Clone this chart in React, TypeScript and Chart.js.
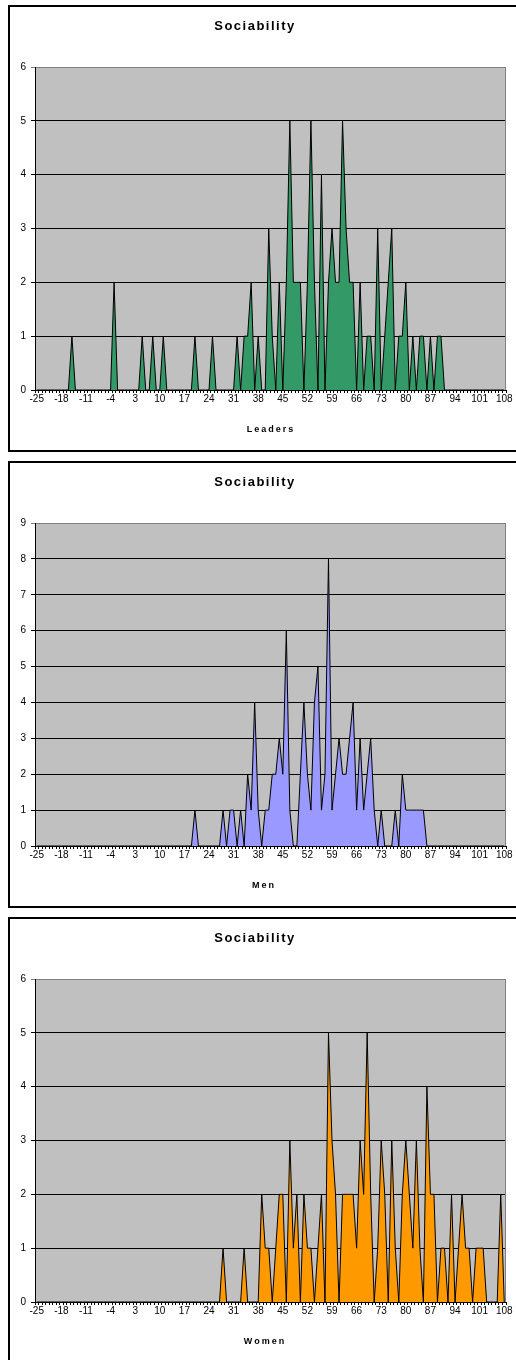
import React, { useEffect, useRef } from 'react';
import { Chart, registerables } from 'chart.js';

Chart.register(...registerables);

const CATEGORIES: string[] = [
  '-25', '-24', '-23', '-22', '-21', '-20', '-19', '-18', '-17', '-16',
  '-15', '-14', '-13', '-12', '-11', '-10', '-9', '-8', '-7', '-6',
  '-5', '-4', '-3', '-2', '-1', '0', '1', '2', '3', '4',
  '5', '6', '7', '8', '9', '10', '11', '12', '13', '14',
  '15', '16', '17', '18', '19', '20', '21', '22', '23', '24',
  '25', '26', '27', '28', '29', '30', '31', '32', '33', '34',
  '35', '36', '37', '38', '39', '40', '41', '42', '43', '44',
  '45', '46', '47', '48', '49', '50', '51', '52', '53', '54',
  '55', '56', '57', '58', '59', '60', '61', '62', '63', '64',
  '65', '66', '67', '68', '69', '70', '71', '72', '73', '74',
  '75', '76', '77', '78', '79', '80', '81', '82', '83', '84',
  '85', '86', '87', '88', '89', '90', '91', '92', '93', '94',
  '95', '96', '97', '98', '99', '100', '101', '102', '103', '104',
  '105', '106', '107', '108',
];

const TICK_LABELS: string[] = [
  '-25', '-18', '-11', '-4', '3', '10', '17', '24', '31', '38',
  '45', '52', '59', '66', '73', '80', '87', '94', '101', '108',
];

const LEADERS: number[] = [
  0, 0, 0, 0, 0, 0, 0, 0, 0, 0,
  1, 0, 0, 0, 0, 0, 0, 0, 0, 0,
  0, 0, 2, 0, 0, 0, 0, 0, 0, 0,
  1, 0, 0, 1, 0, 0, 1, 0, 0, 0,
  0, 0, 0, 0, 0, 1, 0, 0, 0, 0,
  1, 0, 0, 0, 0, 0, 0, 1, 0, 1,
  1, 2, 0, 1, 0, 0, 3, 1, 0, 2,
  0, 2, 5, 2, 2, 2, 0, 2, 5, 2,
  0, 4, 0, 2, 3, 2, 2, 5, 3, 2,
  2, 0, 2, 0, 1, 1, 0, 3, 0, 1,
  2, 3, 0, 1, 1, 2, 0, 1, 0, 1,
  1, 0, 1, 0, 1, 1, 0, 0, 0, 0,
  0, 0, 0, 0, 0, 0, 0, 0, 0, 0,
  0, 0, 0, 0,
];

const MEN: number[] = [
  0, 0, 0, 0, 0, 0, 0, 0, 0, 0,
  0, 0, 0, 0, 0, 0, 0, 0, 0, 0,
  0, 0, 0, 0, 0, 0, 0, 0, 0, 0,
  0, 0, 0, 0, 0, 0, 0, 0, 0, 0,
  0, 0, 0, 0, 0, 1, 0, 0, 0, 0,
  0, 0, 0, 1, 0, 1, 1, 0, 1, 0,
  2, 1, 4, 1, 0, 1, 1, 2, 2, 3,
  2, 6, 1, 0, 0, 2, 4, 2, 1, 4,
  5, 1, 2, 8, 1, 2, 3, 2, 2, 3,
  4, 1, 3, 1, 2, 3, 1, 0, 1, 0,
  0, 0, 1, 0, 2, 1, 1, 1, 1, 1,
  1, 0, 0, 0, 0, 0, 0, 0, 0, 0,
  0, 0, 0, 0, 0, 0, 0, 0, 0, 0,
  0, 0, 0, 0,
];

const WOMEN: number[] = [
  0, 0, 0, 0, 0, 0, 0, 0, 0, 0,
  0, 0, 0, 0, 0, 0, 0, 0, 0, 0,
  0, 0, 0, 0, 0, 0, 0, 0, 0, 0,
  0, 0, 0, 0, 0, 0, 0, 0, 0, 0,
  0, 0, 0, 0, 0, 0, 0, 0, 0, 0,
  0, 0, 0, 1, 0, 0, 0, 0, 0, 1,
  0, 0, 0, 0, 2, 1, 1, 0, 1, 2,
  2, 0, 3, 1, 2, 0, 2, 1, 1, 0,
  1, 2, 0, 5, 3, 2, 0, 2, 2, 2,
  2, 1, 3, 2, 5, 2, 0, 1, 3, 2,
  0, 3, 1, 0, 2, 3, 2, 1, 3, 1,
  0, 4, 2, 2, 0, 1, 1, 0, 2, 0,
  1, 2, 1, 1, 0, 1, 1, 1, 0, 0,
  0, 0, 2, 0,
];

const CHART_TITLE = 'Sociability';
const FONT = '"Liberation Sans", Arial, Helvetica, sans-serif';

const PANEL_W = 508;
const PANEL_H = 447;

const decorPlugin = {
  id: 'panelDecor',
  beforeDraw(chart: any) {
    const { ctx, chartArea: a } = chart;
    ctx.save();
    ctx.fillStyle = '#C0C0C0';
    ctx.fillRect(a.left, a.top, a.right - a.left, a.bottom - a.top);
    ctx.restore();
  },
  afterDraw(chart: any, _args: any, opts: any) {
    const { ctx, chartArea: a } = chart;
    ctx.save();
    ctx.strokeStyle = '#808080';
    ctx.lineWidth = 1;
    ctx.beginPath();
    ctx.moveTo(Math.round(a.right) - 0.5, a.top);
    ctx.lineTo(Math.round(a.right) - 0.5, a.bottom);
    ctx.stroke();

    ctx.fillStyle = '#000';
    ctx.textAlign = 'center';
    ctx.textBaseline = 'middle';
    ctx.font = 'bold 13px ' + FONT;
    (ctx as any).letterSpacing = '1.5px';
    ctx.fillText(opts.title, opts.titleX, opts.titleY);
    ctx.font = 'bold 9px ' + FONT;
    (ctx as any).letterSpacing = '2px';
    ctx.fillText(opts.axisTitle, opts.axisTitleX, opts.axisTitleY);
    ctx.restore();
  },
};

type PanelProps = {
  top: number;
  axisTitle: string;
  axisTitleX: number;
  data: number[];
  color: string;
  yMax: number;
};

function Panel({ top, axisTitle, axisTitleX, data, color, yMax }: PanelProps) {
  const ref = useRef<HTMLCanvasElement | null>(null);

  useEffect(() => {
    if (!ref.current) return;
    const chart = new Chart(ref.current, {
      type: 'line',
      data: {
        labels: CATEGORIES,
        datasets: [
          {
            data,
            fill: 'origin',
            backgroundColor: color,
            borderColor: '#000',
            borderWidth: 1,
            pointRadius: 0,
            tension: 0,
          },
        ],
      },
      plugins: [decorPlugin as any],
      options: {
        animation: false,
        responsive: false,
        devicePixelRatio: 1,
        events: [],
        layout: { padding: { top: 62, right: 10, left: 0, bottom: 0 } },
        plugins: {
          legend: { display: false },
          tooltip: { enabled: false },
          title: { display: false },
          panelDecor: {
            title: CHART_TITLE,
            titleX: 247,
            titleY: 21.5,
            axisTitle,
            axisTitleX,
            axisTitleY: 424.7,
          },
        } as any,
        scales: {
          x: {
            type: 'category',
            offset: true,
            grid: {
              display: true,
              drawOnChartArea: false,
              drawTicks: true,
              tickLength: 3,
              color: '#000',
              offset: true,
            },
            border: { display: true, color: '#000', width: 1 },
            ticks: {
              autoSkip: false,
              maxRotation: 0,
              minRotation: 0,
              padding: 0,
              color: '#000',
              font: { family: FONT, size: 10 },
              callback: (_v: any, i: number) => {
                const l = CATEGORIES[i];
                return TICK_LABELS.includes(l) ? l : '';
              },
            },
            afterFit: (s: any) => {
              s.height = 62;
            },
          },
          y: {
            min: 0,
            max: yMax,
            grid: {
              color: (c: any) => (c.tick && c.tick.value === yMax ? '#808080' : '#000'),
              tickLength: 4,
              drawTicks: true,
            },
            border: { display: true, color: '#000', width: 1 },
            ticks: {
              stepSize: 1,
              padding: 5,
              color: '#000',
              font: { family: FONT, size: 10 },
            },
            afterFit: (s: any) => {
              s.width = 27;
            },
          },
        },
      },
    });
    return () => chart.destroy();
  }, [data, color, yMax, axisTitle, axisTitleX]);

  return (
    <div style={{ position: 'absolute', left: 0, top, width: PANEL_W, height: PANEL_H }}>
      <canvas
        ref={ref}
        width={PANEL_W}
        height={PANEL_H}
        style={{ position: 'absolute', left: 0, top: 0, width: PANEL_W, height: PANEL_H, display: 'block' }}
      />
      <div
        style={{
          position: 'absolute',
          left: 0,
          top: 0,
          width: PANEL_W + 20,
          height: PANEL_H,
          border: '2px solid #000',
          boxSizing: 'border-box',
          pointerEvents: 'none',
        }}
      />
    </div>
  );
}

export default function App() {
  return (
    <div
      style={{
        position: 'fixed',
        left: 8,
        top: 5,
        width: PANEL_W,
        height: 1355,
        overflow: 'hidden',
        background: '#fff',
      }}
    >
      <Panel top={0} axisTitle="Leaders" axisTitleX={263} data={LEADERS} color="#339966" yMax={6} />
      <Panel top={456} axisTitle="Men" axisTitleX={256} data={MEN} color="#9999FF" yMax={9} />
      <Panel top={912} axisTitle="Women" axisTitleX={257} data={WOMEN} color="#FF9900" yMax={6} />
    </div>
  );
}
